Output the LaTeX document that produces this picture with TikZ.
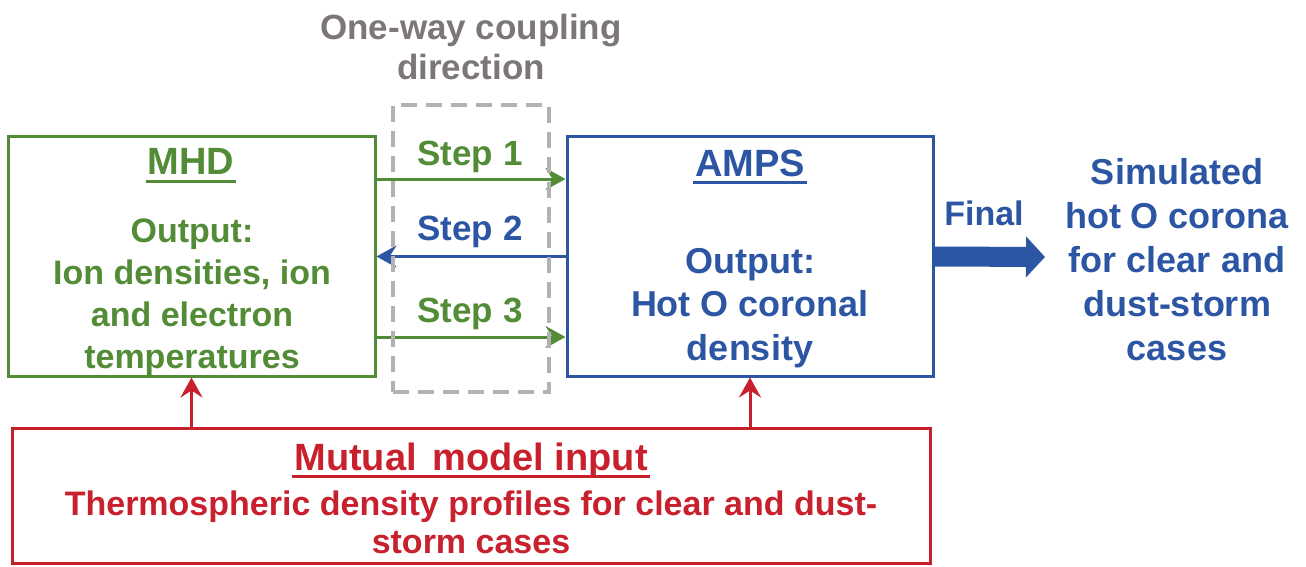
\documentclass[tikz,border=0pt]{standalone}
\usepackage{fontspec}
\setmainfont{Liberation Sans}
\usepackage{tikz}
\usetikzlibrary{arrows.meta,calc,positioning}
\definecolor{MhdGreen}{RGB}{83,140,55}
\definecolor{AmpsBlue}{RGB}{44,86,163}
\definecolor{InputRed}{RGB}{200,32,44}
\definecolor{WayGray}{RGB}{124,118,118}
\definecolor{DashGray}{RGB}{178,178,178}
\newcommand{\ulbox}[1]{\setbox0\hbox{#1}\rlap{\copy0}\kern-2pt\rule[-8pt]{\dimexpr\wd0+4pt\relax}{3pt}\kern-2pt}

\begin{document}
\begin{tikzpicture}[x=1pt,y=-1pt,>={Stealth[length=20pt,width=22pt,inset=7pt]},
  every node/.style={font=\fontsize{34}{43}\selectfont\bfseries},
  lead/.style 2 args={font=\fontsize{#1}{#2}\selectfont\bfseries},
  model/.style={draw,line width=3pt,inner sep=0pt,minimum width=#1,minimum height=239pt},
  txt/.style={anchor=base,align=center,inner sep=0pt}]
\useasboundingbox (0,0) rectangle (1306,567);
\node[model=367pt,draw=MhdGreen] (mhd) at (191.5,256.5) {};
\node[model=366pt,draw=AmpsBlue] (amps) at (750,256.5) {};
\node[draw=InputRed,line width=3pt,inner sep=0pt,minimum width=918pt,minimum height=135pt] (inp) at (471,495.5) {};
% multi-line texts sit on their last line
\node[txt,lead={35}{40},text=WayGray] (waylbl) at (471,80) {One-way coupling\\direction};
\node[txt,lead={38}{43},text=MhdGreen] (mhdttl) at (191,175) {\ulbox{MHD}};
\node[txt,lead={34}{41.7},text=MhdGreen] (mhdout) at (192,368) {Output:\\Ion densities, ion\\and electron\\temperatures};
\node[txt,lead={38}{43},text=AmpsBlue] (ampsttl) at (750,176) {\ulbox{AMPS}};
\node[txt,lead={36}{43.5},text=AmpsBlue] (ampsout) at (750,360) {Output:\\Hot O coronal\\density};
\node[txt,lead={35}{43},text=MhdGreen] (s1) at (470,165) {Step 1};
\node[txt,lead={35}{43},text=AmpsBlue] (s2) at (470,240) {Step 2};
\node[txt,lead={35}{43},text=MhdGreen] (s3) at (470,322) {Step 3};
\node[txt,text=AmpsBlue] (fin) at (984,225) {Final};
\node[txt,lead={36}{44},text=AmpsBlue] (sim) at (1177,360) {Simulated\\hot O corona\\for clear and\\dust-storm\\cases};
\node[txt,lead={38}{43},text=InputRed] (inpttl) at (471,470) {\ulbox{Mutual\hspace{5pt} model input}};
\node[txt,lead={34}{38},text=InputRed] (inptxt) at (471,553) {Thermospheric density profiles for clear and dust-\\storm cases};
% coupling steps
\draw[->,line width=3pt,MhdGreen] ($(mhd.east)+(0,-77.5)$)--($(amps.west)+(0,-77.5)$);
\draw[->,line width=3pt,AmpsBlue] (amps.west)--(mhd.east);
\draw[->,line width=3pt,MhdGreen] ($(mhd.east)+(0,80.5)$)--($(amps.west)+(0,80.5)$);
\node[draw=DashGray,line width=3.5pt,dash pattern=on 16pt off 9pt,inner sep=0pt,minimum width=156pt,minimum height=287pt] (way) at (471,248.5) {};
% input and final output
\draw[->,line width=3pt,InputRed] (inp.north -| mhd.south)--(mhd.south);\draw[->,line width=3pt,InputRed] (inp.north -| amps.south)--(amps.south);
\coordinate (tip) at (1045,257);
\draw[line width=20pt,AmpsBlue,-{Triangle[length=19pt,width=40pt]}] (amps.east)--(tip);
\end{tikzpicture}
\end{document}
